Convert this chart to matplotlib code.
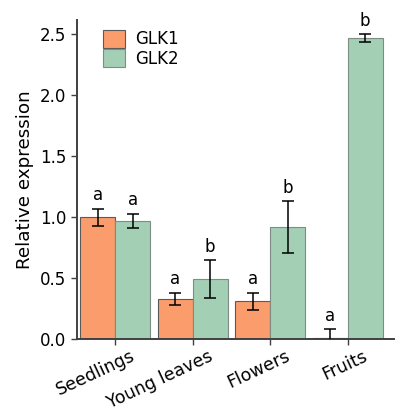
import numpy as np
import matplotlib.pyplot as plt
from matplotlib.transforms import ScaledTranslation

# tissues and expression data
tissues = ["Seedlings", "Young leaves", "Flowers", "Fruits"]
glk1_mean = [1.00, 0.33, 0.31, 0.01]
glk1_err = [0.07, 0.05, 0.07, 0.07]
glk2_mean = [0.97, 0.49, 0.92, 2.47]
glk2_err = [0.06, 0.155, 0.21, 0.035]
glk1_letters = ["a", "a", "a", "a"]
glk2_letters = ["a", "b", "b", "b"]

orange = "#FB9C6C"
green = "#A3CFB4"
spine_col = "#404040"

fig = plt.figure(figsize=(3.97, 4.12), dpi=100)
ax = fig.add_axes([0.193, 0.177, 0.8, 0.775])

x = np.arange(len(tissues))
w = 0.45
ax.bar(x - w / 2, glk1_mean, w, color=orange, edgecolor="#5a5a5a",
       linewidth=0.8, label="GLK1", zorder=2)
ax.bar(x + w / 2, glk2_mean, w, color=green, edgecolor="#7f8c85",
       linewidth=0.8, label="GLK2", zorder=2)
ax.errorbar(x - w / 2, glk1_mean, yerr=glk1_err, fmt="none", ecolor="black",
            elinewidth=1.1, capsize=4, capthick=1.1, zorder=3)
ax.errorbar(x + w / 2, glk2_mean, yerr=glk2_err, fmt="none", ecolor="black",
            elinewidth=1.1, capsize=4, capthick=1.1, zorder=3)

# significance letters
for i in range(len(tissues)):
    ax.text(x[i] - w / 2, glk1_mean[i] + glk1_err[i] + 0.035, glk1_letters[i],
            ha="center", va="bottom", fontsize=12)
    ax.text(x[i] + w / 2, glk2_mean[i] + glk2_err[i] + 0.035, glk2_letters[i],
            ha="center", va="bottom", fontsize=12)

ax.set_xlim(-0.5, 3.6)
ax.set_ylim(0, 2.62)
ax.set_yticks([0.0, 0.5, 1.0, 1.5, 2.0, 2.5])
ax.set_yticklabels(["0.0", "0.5", "1.0", "1.5", "2.0", "2.5"])
ax.set_xticks(x)
ax.set_xticklabels([])

# rotated category labels, shifted right of the ticks like the original
shift = ax.get_xaxis_transform() + ScaledTranslation(0.15, -0.08, fig.dpi_scale_trans)
for i, name in enumerate(tissues):
    ax.text(x[i], 0, name, transform=shift, rotation=25, ha="right", va="top",
            rotation_mode="anchor", fontsize=12.5)

ax.tick_params(axis="y", labelsize=12, length=4, width=1, color=spine_col)
ax.tick_params(axis="x", length=4, width=1, color=spine_col)
ax.set_ylabel("Relative expression", fontsize=13.2)

for s in ["top", "right"]:
    ax.spines[s].set_visible(False)
for s in ["left", "bottom"]:
    ax.spines[s].set_color(spine_col)
    ax.spines[s].set_linewidth(1.4)

ax.legend(loc="upper left", bbox_to_anchor=(0.05, 1.0), frameon=False,
          fontsize=12, handlelength=1.35, handleheight=1.3, handletextpad=0.6,
          labelspacing=0.05, borderaxespad=0.2)

fig.savefig("out.png", dpi=100)
